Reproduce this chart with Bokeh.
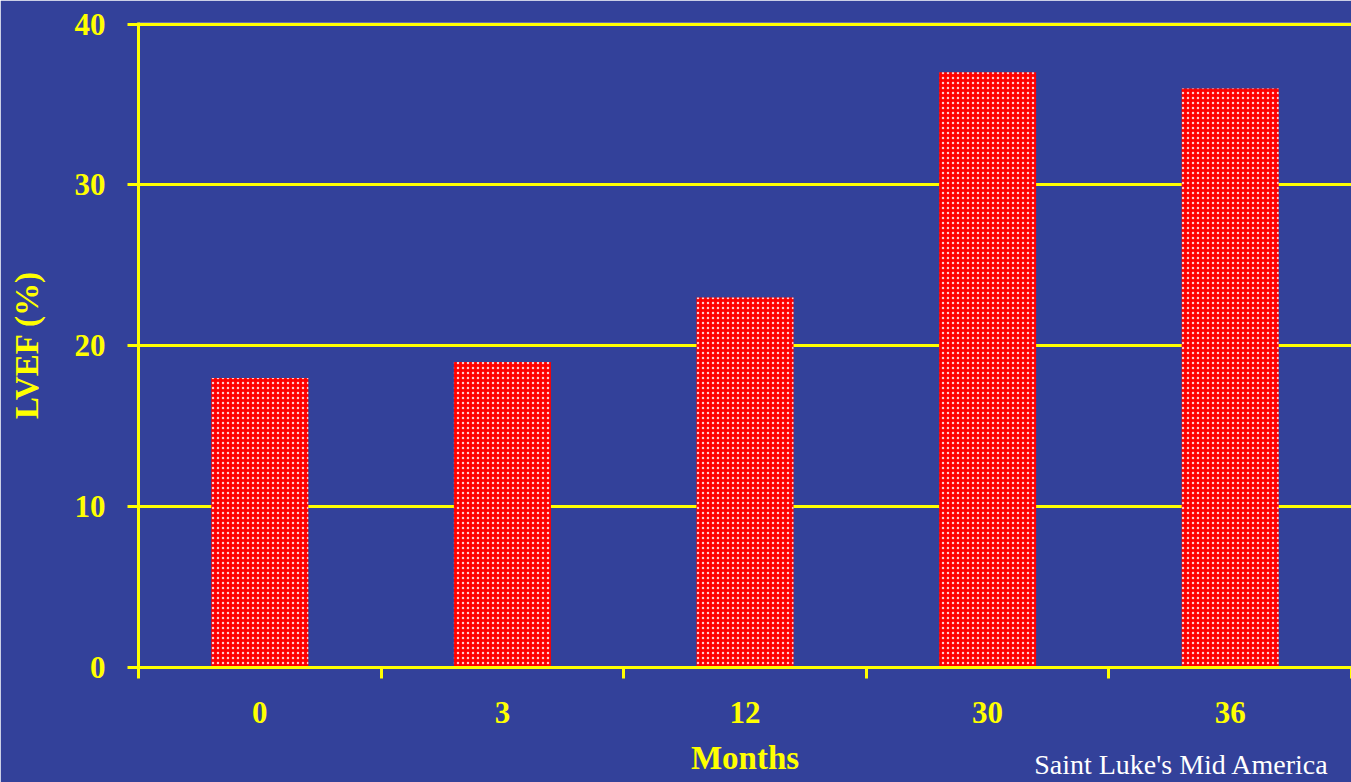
from bokeh.plotting import figure
from bokeh.models import FixedTicker, Range1d, LinearAxis, ColumnDataSource
from bokeh.embed import file_html
from bokeh.resources import INLINE

# ---- data ----
months = ["0", "3", "12", "30", "36"]
lvef = [18, 19, 23, 37, 36]
y_ticks = [0, 10, 20, 30, 40]
x_label = "Months"
y_label = "LVEF (%)"
footer = "Saint Luke's Mid America"

BG = "#33419A"
YEL = "#FFFF00"
FONT = "Liberation Serif"
FOOTER_X = 4.3  # horizontal anchor of the footer text (x-axis units)

centers = [i + 0.5 for i in range(len(months))]
src = ColumnDataSource(dict(x=centers, top=lvef))

p = figure(width=1351, height=782, output_backend="svg", toolbar_location=None,
           x_range=Range1d(0, len(months)), y_range=Range1d(0, 40.1),
           min_border_left=138, min_border_top=22, min_border_bottom=113,
           min_border_right=0)
p.background_fill_color = BG
p.border_fill_color = BG
p.outline_line_color = None

p.vbar(x="x", top="top", bottom=0, width=0.4, source=src,
       fill_color="#FF0000", line_color=None,
       hatch_pattern="dot", hatch_color="white", hatch_scale=5,
       hatch_weight=2, hatch_alpha=0.8)

# x axis: labels at centers, tick marks at boundaries
xa = p.xaxis[0]
xa.ticker = FixedTicker(ticks=centers, minor_ticks=list(range(len(months) + 1)))
xa.major_label_overrides = {c: m for c, m in zip(centers, months)}
xa.major_tick_line_color = None
xa.major_tick_out = 11
xa.major_tick_in = 0
xa.minor_tick_line_color = YEL
xa.minor_tick_line_width = 3
xa.minor_tick_out = 11
xa.minor_tick_in = 0
xa.axis_line_color = YEL
xa.axis_line_width = 3
xa.major_label_text_color = YEL
xa.major_label_text_font = FONT
xa.major_label_text_font_style = "bold"
xa.major_label_text_font_size = "31px"
xa.major_label_standoff = 23
xa.axis_label = x_label
xa.axis_label_text_color = YEL
xa.axis_label_text_font = FONT
xa.axis_label_text_font_style = "bold"
xa.axis_label_text_font_size = "33px"
xa.axis_label_standoff = 14

ya = p.yaxis[0]
ya.ticker = FixedTicker(ticks=y_ticks, minor_ticks=[])
ya.major_tick_line_color = YEL
ya.major_tick_line_width = 3
ya.major_tick_out = 11
ya.major_tick_in = 0
ya.axis_line_color = YEL
ya.axis_line_width = 3
ya.major_label_text_color = YEL
ya.major_label_text_font = FONT
ya.major_label_text_font_style = "bold"
ya.major_label_text_font_size = "31px"
ya.major_label_standoff = 22
ya.axis_label = y_label
ya.axis_label_text_color = YEL
ya.axis_label_text_font = FONT
ya.axis_label_text_font_style = "bold"
ya.axis_label_text_font_size = "33px"
ya.axis_label_standoff = 27

p.xgrid.grid_line_color = None
p.ygrid.grid_line_color = YEL
p.ygrid.grid_line_width = 3

# footer text: the single tick label of an otherwise empty second bottom axis
fa = LinearAxis(ticker=FixedTicker(ticks=[FOOTER_X], minor_ticks=[]),
                major_label_overrides={FOOTER_X: footer},
                axis_line_color=None, major_tick_line_color=None,
                minor_tick_line_color=None, major_tick_out=0, major_tick_in=0,
                minor_tick_out=0, minor_tick_in=0,
                major_label_standoff=-30,
                major_label_text_color="white", major_label_text_font=FONT,
                major_label_text_font_style="normal",
                major_label_text_font_size="28px")
p.add_layout(fa, "below")

open("out.html", "w").write(file_html(p, INLINE))
